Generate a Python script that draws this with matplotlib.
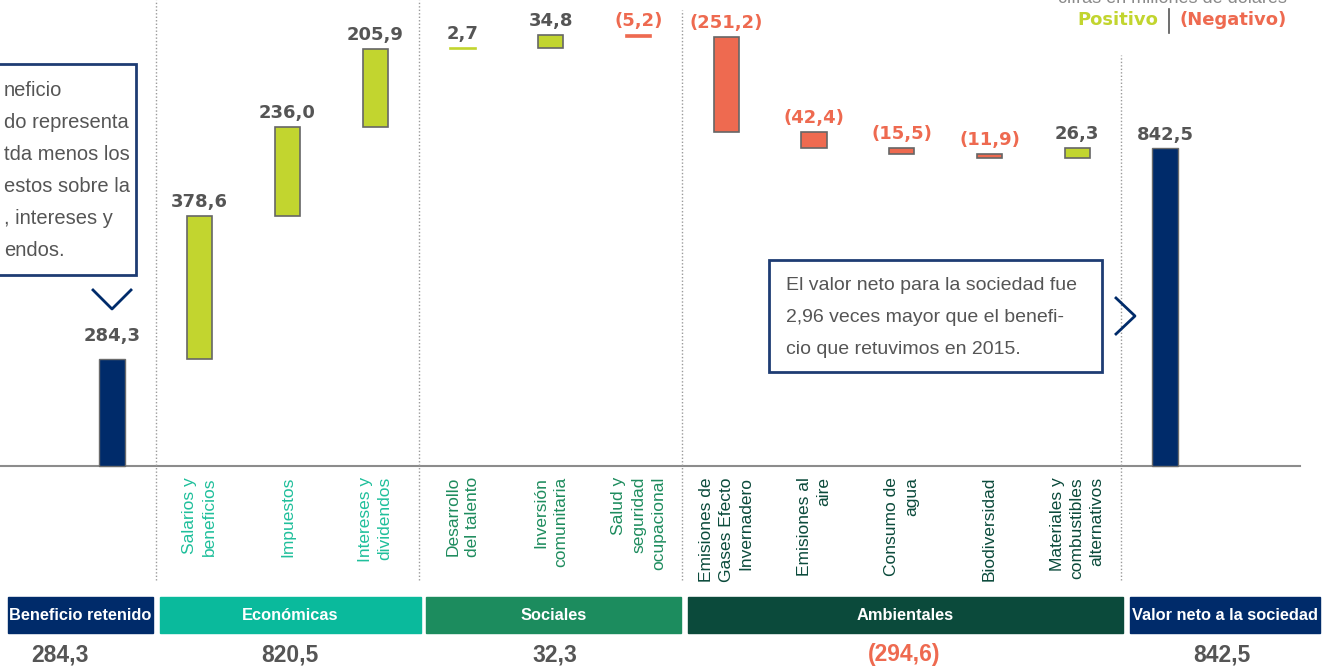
"""Cascada de valor neto a la sociedad (cifras en millones de dólares)"""

import matplotlib.pyplot as plt
from matplotlib.lines import Line2D
from matplotlib.patches import Rectangle

# --- datos -------------------------------------------------------------
beneficio_retenido = 284.3
step_labels = ["Salarios y\nbeneficios", "Impuestos", "Intereses y\ndividendos",
               "Desarrollo\ndel talento", "Inversión\ncomunitaria",
               "Salud y\nseguridad\nocupacional",
               "Emisiones de\nGases Efecto\nInvernadero", "Emisiones al\naire",
               "Consumo de\nagua", "Biodiversidad",
               "Materiales y\ncombustibles\nalternativos"]
step_values = [378.6, 236.0, 205.9, 2.7, 34.8, -5.2,
               -251.2, -42.4, -15.5, -11.9, 26.3]
step_group = [1, 1, 1, 2, 2, 2, 3, 3, 3, 3, 3]
valor_neto = 842.5

group_names = ["Beneficio retenido", "Económicas", "Sociales", "Ambientales",
               "Valor neto a la sociedad"]
group_totals = [284.3, 820.5, 32.3, -294.6, 842.5]

# --- estilo ------------------------------------------------------------
NAVY = "#002B6A"
GREEN = "#C2D52F"
RED = "#EE6A50"
GRAY_TXT = "#555555"
BOX_EDGE = "#1E3C73"
group_colors = [NAVY, "#0ABA9C", "#1C8C5E", "#0B4A3B", NAVY]
label_colors = {1: "#1FBF9B", 2: "#1E8C5E", 3: "#0B4A3B"}
SANS = ["Liberation Sans", "DejaVu Sans"]

W, H = 1324, 669
X0, DX = 112, 87.75        # centro de la primera barra y paso, en píxeles
Y0, SCALE = 466, 0.377     # línea base y píxeles por millón


def fmt(v):
    s = f"{abs(v):.1f}".replace(".", ",")
    return f"({s})" if v < 0 else s


def fx(x):
    return x / W


def fy(y):
    return 1 - y / H


fig = plt.figure(figsize=(W / 100, H / 100), dpi=100)
ax = fig.add_axes([0, 0, 1, 1])
ax.set_xlim(-X0 / DX, (W - X0) / DX)
ax.set_ylim(-(H - Y0) / SCALE, Y0 / SCALE)
ax.axis("off")

# separadores punteados y línea base
for xs, top in [(0.5, 1.0), (3.5, 1.0), (6.5, 0.985), (11.5, 0.918)]:
    ax.axvline(xs, ymin=1 - 580 / H, ymax=top, color="#9A9A9A", lw=1,
               ls=(0, (1, 1.5)))
ax.axhline(0, xmin=0, xmax=1300 / W, color="#8C8C8C", lw=1.5, zorder=1)

# barras
bw = 0.29
ax.bar(0, beneficio_retenido, width=bw, color=NAVY, edgecolor="#6B6B6B",
       lw=1, zorder=3)
ax.annotate(fmt(beneficio_retenido), (0, beneficio_retenido), xytext=(0, 18),
            textcoords="offset pixels", ha="center", va="baseline",
            fontsize=13, fontweight="bold", color=GRAY_TXT)

running = beneficio_retenido
for i, (lab, v, g) in enumerate(zip(step_labels, step_values, step_group), 1):
    color = GREEN if v > 0 else RED
    edge = color if abs(v) < 10 else "#666666"
    ax.bar(i, v, bottom=running, width=bw, color=color, edgecolor=edge,
           lw=1.2, zorder=3)
    top = max(running, running + v)
    ax.annotate(fmt(v), (i, top), xytext=(0, 9), textcoords="offset pixels",
                ha="center", va="baseline", fontsize=13, fontweight="bold",
                color=GRAY_TXT if v > 0 else RED)
    running += v
    fig.text(fx(X0 + DX * i), fy(477), lab, rotation=90, ha="center",
             va="top", multialignment="right", fontsize=12.5,
             family=SANS, color=label_colors[g], linespacing=1.4)

n = len(step_values) + 1
ax.bar(n, valor_neto, width=bw, color=NAVY, edgecolor="#6B6B6B", lw=1,
       zorder=3)
ax.annotate(fmt(valor_neto), (n, valor_neto), xytext=(0, 8),
            textcoords="offset pixels", ha="center", va="baseline",
            fontsize=13, fontweight="bold", color=GRAY_TXT)

# bandas de grupos y totales
bands = [(8, 153), (160, 421), (426, 681), (688, 1123), (1130, 1320)]
total_x = [60, 290, 555, 904, 1222]
for (x1, x2), tx, name, total, c in zip(bands, total_x, group_names,
                                        group_totals, group_colors):
    fig.patches.append(Rectangle((fx(x1), fy(633)), (x2 - x1) / W, 36 / H,
                                 transform=fig.transFigure, color=c))
    fig.text(fx((x1 + x2) / 2), fy(615), name, ha="center", va="center",
             color="white", fontsize=11.8, fontweight="bold", family=SANS)
    fig.text(fx(tx), fy(655), fmt(total), ha="center",
             va="center", color=RED if total < 0 else GRAY_TXT, fontsize=16.5,
             fontweight="bold", family=SANS)

# leyenda superior derecha
fig.text(fx(1287), fy(3), "cifras en millones de dólares", ha="right",
         va="baseline", fontsize=13, color="#8A8A8A", family=SANS)
fig.text(fx(1287), fy(20), "(Negativo)", ha="right", va="center",
         fontsize=13, fontweight="bold", color=RED)
fig.text(fx(1158), fy(20), "Positivo", ha="right", va="center",
         fontsize=13, fontweight="bold", color=GREEN)
fig.lines.append(Line2D([fx(1169)] * 2, [fy(9), fy(33)],
                        transform=fig.transFigure, color="#555555", lw=1.2))

# recuadros de texto
fig.patches.append(Rectangle((fx(-10), fy(275)), 146 / W, 211 / H,
                             transform=fig.transFigure, fill=False,
                             edgecolor=BOX_EDGE, lw=2))
left_lines = ["neficio", "do representa", "tda menos los", "estos sobre la",
              ", intereses y", "endos."]
for k, line in enumerate(left_lines):
    fig.text(fx(4), fy(90 + 32.2 * k), line, ha="left", va="center",
             fontsize=14.5, family=SANS, color=GRAY_TXT)

fig.patches.append(Rectangle((fx(769), fy(372)), 333 / W, 112 / H,
                             transform=fig.transFigure, fill=False,
                             edgecolor=BOX_EDGE, lw=2))
right_lines = ["El valor neto para la sociedad fue",
               "2,96 veces mayor que el benefi-",
               "cio que retuvimos en 2015."]
for k, line in enumerate(right_lines):
    fig.text(fx(786), fy(285 + 32.5 * k), line, ha="left", va="center",
             fontsize=14, family=SANS, color=GRAY_TXT)

# flechas
fig.lines.append(Line2D([fx(93), fx(112), fx(131)], [fy(290), fy(309), fy(290)],
                        transform=fig.transFigure, color=NAVY, lw=2))
fig.lines.append(Line2D([fx(1116), fx(1135), fx(1116)],
                        [fy(298), fy(316), fy(334)],
                        transform=fig.transFigure, color=NAVY, lw=2))

plt.savefig("out.png", dpi=100)
plt.close()
